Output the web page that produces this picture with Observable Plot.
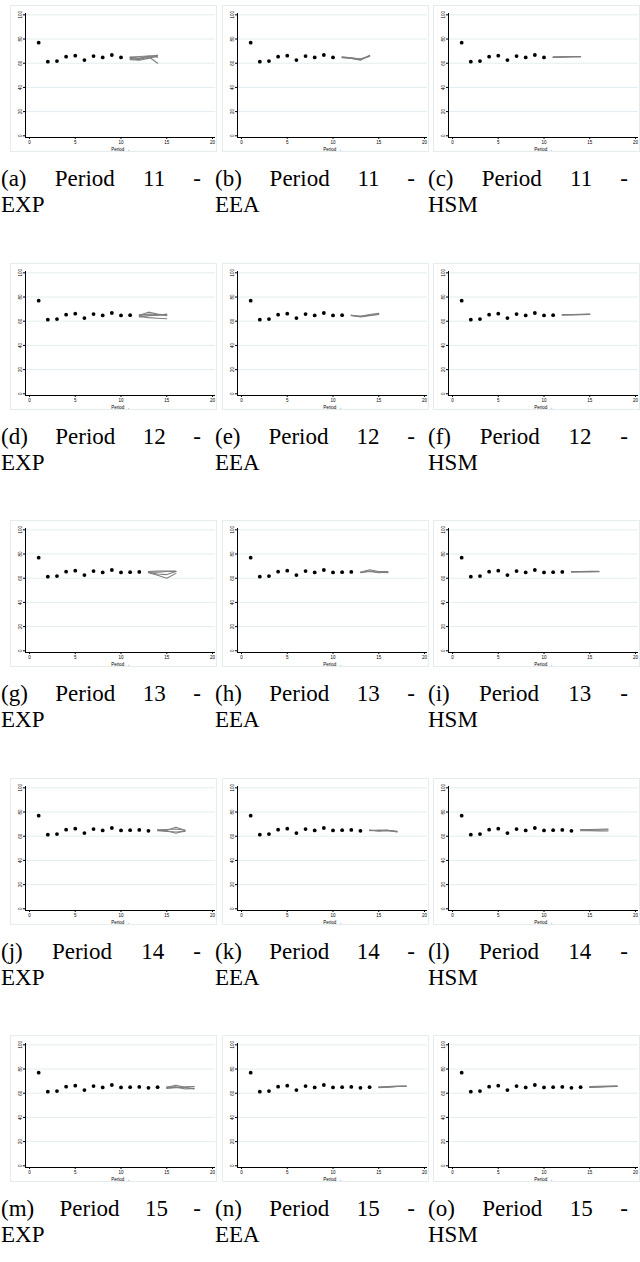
<!DOCTYPE html>
<html><head><meta charset="utf-8">
<script src="https://cdn.jsdelivr.net/npm/d3@7"></script>
<script src="https://cdn.jsdelivr.net/npm/@observablehq/plot@0.6"></script>
<style>
body{margin:0;background:#fff;}
#page{position:relative;width:640px;height:1262px;overflow:hidden;background:#fff;}
.panel{position:absolute;width:207px;height:147px;outline:1px solid #e4ecee;outline-offset:-1px;}
.panel svg{display:block;overflow:visible;}
.cap{position:absolute;width:200px;font-family:"Liberation Serif","DejaVu Serif",serif;font-size:23px;line-height:26px;color:#000;}
.l1{text-align:justify;text-align-last:justify;}
</style>
</head><body><div id="page"></div>
<script>
// ---- data ----
const observedPeriods = [1,2,3,4,5,6,7,8,9,10,11,12,13,14];
const observed = [77, 61.3, 61.8, 65.4, 66.2, 62.6, 65.9, 64.8, 66.8, 64.8, 65.0, 65.2, 64.5, 65.0];
const forecastPeriods = [11,12,13,14,15];
const methods = ["EXP","EEA","HSM"];
const letters = ["a","b","c","d","e","f","g","h","i","j","k","l","m","n","o"];
const xTicks = [0,5,10,15,20];
const yTicks = [0,20,40,60,80,100];

// simulated paths: each row = values at periods P, P+1, P+2, P+3
const sim11EXP = [[64,63,65,66],[65,64,66,65],[63,62.5,64,66],[64.5,64,65.5,60],[65,65.5,66,66.5]];
const sim11EEA = [[65,64.5,63,66],[65,64,63.5,65.5],[64.5,64,62.5,66.5],[65,64.5,63.5,66]];
const sim11HSM = [[65,65.2,65.3,65.5],[64.8,65,65.1,65.2],[65.2,65.3,65.5,65.6]];
const sim12EXP = [[65,67.5,66,65],[64.5,66,65.5,64.5],[64,63,62.5,62],[65.5,65,65,66],[63.5,64.5,65,65.5]];
const sim12EEA = [[65,64,65,66],[65,63.5,64.5,65.5],[64.5,64,65.5,66.5]];
const sim12HSM = [[65.5,65.6,65.8,66],[65,65.2,65.3,65.5],[65.3,65.4,65.6,65.8]];
const sim13EXP = [[65,65,65.5,65.5],[64.5,62.5,60,64],[65,63.5,63,65.5],[65.5,66,66,66]];
const sim13EEA = [[65,67,65.5,65.5],[65,66,65,64.5],[64.5,65.5,64.5,65]];
const sim13HSM = [[65.3,65.4,65.5,65.6],[65,65.1,65.2,65.3],[65.5,65.6,65.7,65.8]];
const sim14EXP = [[65,65,67.5,65],[65,64.5,62.5,64.5],[65,65.5,66,65],[64.5,64,63.5,64]];
const sim14EEA = [[65,64.5,65,63.5],[64.5,65,64.8,64],[65,64.2,64.6,63.8]];
const sim14HSM = [[65.5,65.6,65.8,66],[64.5,64.6,64.4,64.3],[65,65.1,65.2,65.3]];
const sim15EXP = [[65,66.5,65,65.5],[64.5,65,63.5,64],[65,65,64.5,63.5],[64,64.5,65,65.5]];
const sim15EEA = [[65,65.5,66,66],[64.5,65,65.5,65.5],[65,65,65.5,66]];
const sim15HSM = [[65.5,65.8,66,66.2],[64.8,65,65.3,65.5],[65,65.3,65.6,65.8]];
const sims = {
  11:{EXP:sim11EXP,EEA:sim11EEA,HSM:sim11HSM},
  12:{EXP:sim12EXP,EEA:sim12EEA,HSM:sim12HSM},
  13:{EXP:sim13EXP,EEA:sim13EEA,HSM:sim13HSM},
  14:{EXP:sim14EXP,EEA:sim14EEA,HSM:sim14HSM},
  15:{EXP:sim15EXP,EEA:sim15EEA,HSM:sim15HSM}
};

// ---- layout ----
const colX = [10, 221.5, 433];
const capX = [1, 215, 428];
const rowY = [5, 262.5, 520, 777.5, 1035];
const capDy = 161;
const xDomain = [-0.44, 20.33];
const yDomain = [-1.4, 101.1];

const page = document.getElementById("page");
forecastPeriods.forEach((P, r) => {
  methods.forEach((m, c) => {
    const obsRows = observedPeriods.filter(p => p < P).map(p => ({period: p, value: observed[p-1]}));
    const simRows = [];
    sims[P][m].forEach((vals, s) => vals.forEach((v, k) => simRows.push({sim: s, period: P + k, value: v})));
    const chart = Plot.plot({
      width: 207, height: 147,
      marginLeft: 15, marginRight: 2, marginTop: 8, marginBottom: 15,
      x: {domain: xDomain},
      y: {domain: yDomain},
      style: {fontFamily: "'Liberation Sans', Arial, sans-serif", background: "transparent", overflow: "visible"},
      marks: [
        Plot.gridY(yTicks.slice(1), {stroke: "#dbe8eb", strokeOpacity: 1, strokeWidth: 0.8}),
        Plot.axisY(yTicks, {tickSize: 2, fontSize: 4.5, tickRotate: -90, tickPadding: 1.5, label: null}),
        Plot.axisX(xTicks, {tickSize: 2, fontSize: 4.5, tickPadding: 1, label: "Period", labelAnchor: "center", labelOffset: 13}),
        Plot.ruleX([xDomain[0]], {stroke: "#000", strokeWidth: 1}),
        Plot.ruleY([yDomain[0]], {stroke: "#000", strokeWidth: 1}),
        Plot.line(simRows, {x: "period", y: "value", z: "sim", stroke: "#7f7f7f", strokeWidth: 1.1}),
        Plot.dot(obsRows, {x: "period", y: "value", r: 1.9, fill: "#000", stroke: null})
      ]
    });
    const div = document.createElement("div");
    div.className = "panel";
    div.style.left = colX[c] + "px";
    div.style.top = rowY[r] + "px";
    div.appendChild(chart);
    page.appendChild(div);

    const cap = document.createElement("div");
    cap.className = "cap";
    cap.style.left = capX[c] + "px";
    cap.style.top = (rowY[r] + capDy) + "px";
    const idx = r * 3 + c;
    cap.innerHTML = `<div class="l1">(${letters[idx]}) Period ${P} -</div><div>${m}</div>`;
    page.appendChild(cap);
  });
});
</script>
</body></html>
